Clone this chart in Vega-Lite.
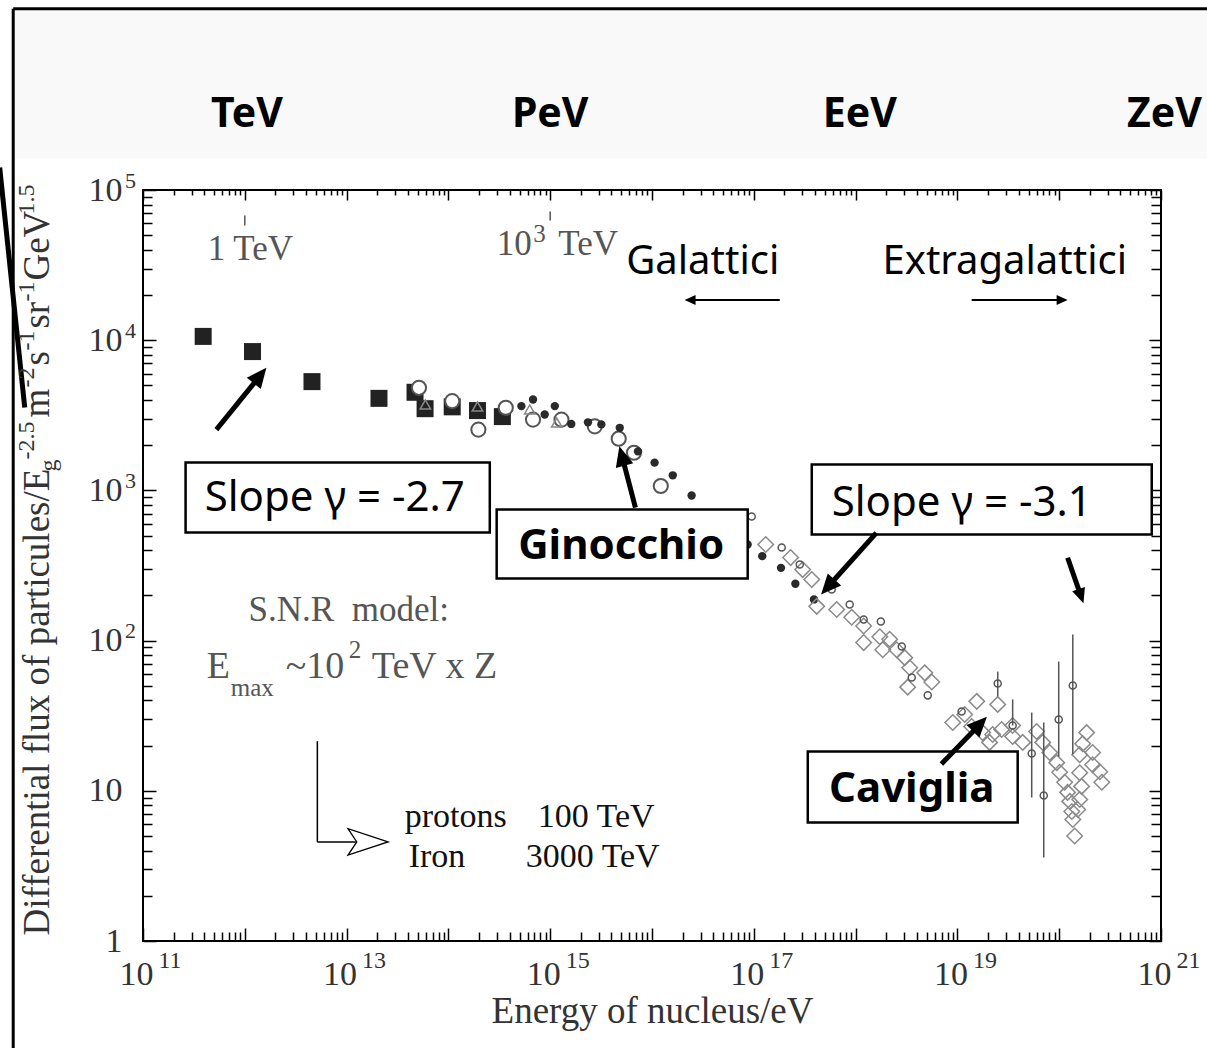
{
  "$schema": "https://vega.github.io/schema/vega-lite/v6.json",
  "width": 1018,
  "height": 751,
  "autosize": {"type": "none"},
  "padding": {"left": 143, "top": 190, "right": 46, "bottom": 107},
  "background": "#ffffff",
  "config": {
    "view": {"stroke": "#000000", "strokeWidth": 2},
    "axis": {"domain": false, "grid": false, "tickColor": "#000000", "tickWidth": 1.5, "labelColor": "#333333", "labelFont": "Liberation Serif", "labelOverlap": false, "labelFlush": false, "zindex": 1}
  },
  "resolve": {"axis": {"x": "independent", "y": "independent"}},
  "encoding": {
    "x": {"field": "E", "type": "quantitative", "scale": {"type": "log", "domain": [1e11, 1e21], "nice": false}, "axis": null},
    "y": {"field": "F", "type": "quantitative", "scale": {"type": "log", "domain": [1, 100000], "nice": false}, "axis": null}
  },
  "datasets": {
    "band": [{"E": 5.5e9, "E2": 3.0e21, "F": 1.58e6, "F2": 1.6e5}],
    "bandLabels": [
      {"t": "TeV", "E": 1.05e12, "F": 2.61e5},
      {"t": "PeV", "E": 1.0e15, "F": 2.61e5},
      {"t": "EeV", "E": 1.1e18, "F": 2.61e5},
      {"t": "ZeV", "E": 1.08e21, "F": 2.61e5}
    ],
    "frame": [
      {"E": 5.31e9, "F": 1.61e6, "E2": 3.0e21, "F2": 1.61e6},
      {"E": 5.31e9, "F": 1.61e6, "E2": 5.31e9, "F2": 0.19}
    ],
    "pointer": [{"E": 3.91e9, "F": 1.41e5, "E2": 6.89e9, "F2": 3565}],
    "yTitleMain": [
      {"t": "Differential flux of particules/E", "E": 1.186e10, "F": 1.089},
      {"t": "m", "E": 1.186e10, "F": 3055},
      {"t": "s", "E": 1.186e10, "F": 6786},
      {"t": "sr", "E": 1.186e10, "F": 11960},
      {"t": "GeV", "E": 1.186e10, "F": 24950}
    ],
    "yTitleScripts": [
      {"t": "g", "E": 1.39e10, "F": 1336},
      {"t": "-2.5", "E": 8.44e9, "F": 1606},
      {"t": "-2", "E": 8.44e9, "F": 4842},
      {"t": "-1", "E": 8.44e9, "F": 8536},
      {"t": "-1", "E": 8.44e9, "F": 18110},
      {"t": "1.5", "E": 8.44e9, "F": 68700}
    ],
    "squares": [
      {"E": 3.9e11, "F": 10600}, {"E": 1.19e12, "F": 8400}, {"E": 4.57e12, "F": 5300},
      {"E": 2.08e13, "F": 4100}, {"E": 4.7e13, "F": 4500}, {"E": 5.9e13, "F": 3500},
      {"E": 1.09e14, "F": 3600}, {"E": 1.93e14, "F": 3400}, {"E": 3.39e14, "F": 3100}
    ],
    "openCircles": [
      {"E": 5.14e13, "F": 4820}, {"E": 1.09e14, "F": 3930}, {"E": 1.97e14, "F": 2540},
      {"E": 3.66e14, "F": 3550}, {"E": 6.78e14, "F": 2960}, {"E": 1.29e15, "F": 2960},
      {"E": 2.74e15, "F": 2670}, {"E": 4.71e15, "F": 2210}, {"E": 6.65e15, "F": 1780},
      {"E": 1.22e16, "F": 1070}
    ],
    "triangles": [
      {"E": 5.94e13, "F": 3730}, {"E": 1.93e14, "F": 3620}, {"E": 6.3e14, "F": 3460}, {"E": 1.16e15, "F": 2830}
    ],
    "dots": [
      {"E": 5.21e14, "F": 3640}, {"E": 6.78e14, "F": 4030}, {"E": 8.83e14, "F": 3200},
      {"E": 1.11e15, "F": 3640}, {"E": 1.61e15, "F": 2770}, {"E": 2.35e15, "F": 2840},
      {"E": 3.18e15, "F": 2750}, {"E": 4.82e15, "F": 2610}, {"E": 7.28e15, "F": 1820},
      {"E": 1.06e16, "F": 1530}, {"E": 1.6e16, "F": 1260}, {"E": 2.45e16, "F": 925},
      {"E": 8.7e16, "F": 436}, {"E": 1.21e17, "F": 365}, {"E": 1.85e17, "F": 305},
      {"E": 2.56e17, "F": 239}, {"E": 3.9e17, "F": 188}
    ],
    "diamonds": [
      {"E": 1.31e17, "F": 436}, {"E": 2.3e17, "F": 357}, {"E": 3.02e17, "F": 297},
      {"E": 3.71e17, "F": 255}, {"E": 4.15e17, "F": 169}, {"E": 6.52e17, "F": 161},
      {"E": 9.16e17, "F": 143}, {"E": 1.2e18, "F": 125}, {"E": 1.2e18, "F": 97},
      {"E": 1.73e18, "F": 106}, {"E": 1.85e18, "F": 87}, {"E": 2.16e18, "F": 102},
      {"E": 2.53e18, "F": 87}, {"E": 3.04e18, "F": 77}, {"E": 3.4e18, "F": 66},
      {"E": 3.25e18, "F": 49}, {"E": 4.78e18, "F": 61}, {"E": 5.6e18, "F": 53},
      {"E": 9.0e18, "F": 28.5}, {"E": 1.18e19, "F": 32.2}, {"E": 1.55e19, "F": 39.4},
      {"E": 2.49e19, "F": 37.6}, {"E": 1.38e19, "F": 26.8}, {"E": 1.77e19, "F": 24.4},
      {"E": 2.07e19, "F": 21.0}, {"E": 2.22e19, "F": 23.7}, {"E": 2.72e19, "F": 25.6},
      {"E": 3.49e19, "F": 27.2}, {"E": 3.49e19, "F": 23.0}, {"E": 4.38e19, "F": 21.0},
      {"E": 6.0e19, "F": 24.8}, {"E": 6.89e19, "F": 21.0}, {"E": 8.07e19, "F": 18.0},
      {"E": 9.46e19, "F": 15.4}, {"E": 1.01e20, "F": 13.3}, {"E": 1.13e20, "F": 11.4},
      {"E": 1.21e20, "F": 9.76}, {"E": 1.27e20, "F": 8.5}, {"E": 1.33e20, "F": 7.28},
      {"E": 1.36e20, "F": 6.44}, {"E": 1.42e20, "F": 5.0}, {"E": 1.52e20, "F": 7.5},
      {"E": 1.59e20, "F": 8.75}, {"E": 1.66e20, "F": 10.7}, {"E": 1.59e20, "F": 13.2},
      {"E": 1.59e20, "F": 17.4}, {"E": 1.7e20, "F": 20.6}, {"E": 1.86e20, "F": 24.4},
      {"E": 2.13e20, "F": 18.0}, {"E": 2.13e20, "F": 14.9}, {"E": 2.5e20, "F": 13.4},
      {"E": 2.62e20, "F": 11.4}
    ],
    "smallCircles": [
      {"E": 9.53e16, "F": 670}, {"E": 1.88e17, "F": 417}, {"E": 2.83e17, "F": 321},
      {"E": 5.82e17, "F": 219}, {"E": 8.75e17, "F": 174}, {"E": 1.2e18, "F": 138},
      {"E": 1.77e18, "F": 134}, {"E": 2.84e18, "F": 91.4}, {"E": 3.56e18, "F": 56.8},
      {"E": 5.11e18, "F": 43.2}, {"E": 1.1e19, "F": 33.7},
      {"E": 2.49e19, "F": 51.8, "lo": 42.5, "hi": 62.2},
      {"E": 3.49e19, "F": 27.2, "lo": 27.2, "hi": 40.6},
      {"E": 5.37e19, "F": 17.7, "lo": 9.02, "hi": 33.2},
      {"E": 7.05e19, "F": 9.31, "lo": 3.6, "hi": 28.5},
      {"E": 9.89e19, "F": 29.8, "lo": 16.9, "hi": 72.6},
      {"E": 1.36e20, "F": 50.2, "lo": 17.5, "hi": 110}
    ],
    "boxes": [
      {"E": 2.62e11, "E2": 2.55e14, "F": 1535, "F2": 525},
      {"E": 2.98e14, "E2": 8.71e16, "F": 746, "F2": 259},
      {"E": 3.71e17, "E2": 8.11e20, "F": 1486, "F2": 508},
      {"E": 3.39e17, "E2": 3.91e19, "F": 18.3, "F2": 6.15}
    ],
    "slopeText": [
      {"t": "Slope γ = -2.7", "E": 4.04e11, "F": 724},
      {"t": "Slope γ = -3.1", "E": 5.82e17, "F": 673}
    ],
    "boldText": [
      {"t": "Ginocchio", "E": 4.98e15, "F": 347},
      {"t": "Caviglia", "E": 3.56e18, "F": 8.36}
    ],
    "regions": [
      {"t": "Galattici", "E": 3.15e16, "F": 27400},
      {"t": "Extragalattici", "E": 2.92e19, "F": 27400}
    ],
    "thinArrows": [
      {"E": 1.8e17, "F": 18500, "E2": 2.51e16, "F2": 18500},
      {"E": 1.38e19, "F": 18500, "E2": 1.01e20, "F2": 18500}
    ],
    "thickArrows": [
      {"E": 5.26e11, "F": 2540, "E2": 1.34e12, "F2": 5546},
      {"E": 6.87e15, "F": 769, "E2": 5.18e15, "F2": 1600},
      {"E": 1.6e18, "F": 522, "E2": 5.66e17, "F2": 238},
      {"E": 1.21e20, "F": 356, "E2": 1.61e20, "F2": 204},
      {"E": 6.97e18, "F": 15.1, "E2": 1.57e19, "F2": 26.6}
    ],
    "heads": [
      {"id": "a1", "E": 1.63e12, "F": 6550},
      {"id": "a2", "E": 4.78e15, "F": 1968},
      {"id": "a3", "E": 4.58e17, "F": 203},
      {"id": "a4", "E": 1.73e20, "F": 177},
      {"id": "a5", "E": 1.95e19, "F": 31.1},
      {"id": "g1", "E": 2.09e16, "F": 18500},
      {"id": "g2", "E": 1.21e20, "F": 18500}
    ],
    "energyTicks": [
      {"E": 1e12, "F": 67600, "E2": 1e12, "F2": 58100},
      {"E": 1e15, "F": 71900, "E2": 1e15, "F2": 62700}
    ],
    "snrLines": [
      {"E": 5.16e12, "F": 21.4, "E2": 5.16e12, "F2": 4.57},
      {"E": 5.16e12, "F": 4.57, "E2": 1.23e13, "F2": 4.57}
    ],
    "snrHead": [{"E": 2.55e13, "F": 4.57}],
    "serif35": [
      {"t": "1 TeV", "E": 4.32e11, "F": 34400},
      {"t": "10", "E": 2.98e14, "F": 37200},
      {"t": "TeV", "E": 1.2e15, "F": 37200},
      {"t": "S.N.R\u00a0\u00a0model:", "E": 1.09e12, "F": 134.6}
    ],
    "serif38": [
      {"t": "E", "E": 4.23e11, "F": 56.5},
      {"t": "~10", "E": 2.52e12, "F": 56.5},
      {"t": "TeV x Z", "E": 1.77e13, "F": 56.5}
    ],
    "serif25": [
      {"t": "3", "E": 6.8e14, "F": 45000},
      {"t": "2", "E": 1.05e13, "F": 76.9},
      {"t": "max", "E": 7.28e11, "F": 42.7}
    ],
    "nucleiLeft": [
      {"t": "protons", "E": 3.72e13, "F": 5.7},
      {"t": "Iron", "E": 4.07e13, "F": 3.13}
    ],
    "nucleiRight": [
      {"t": "100 TeV", "E": 1.06e16, "F": 5.7},
      {"t": "3000 TeV", "E": 1.19e16, "F": 3.13}
    ]
  },
  "layer": [
    {"data": {"name": "band"}, "mark": {"type": "rect", "fill": "#f9f9f9"}, "encoding": {"x2": {"field": "E2"}, "y2": {"field": "F2"}}},
    {"data": {"name": "frame"}, "mark": {"type": "rule", "color": "#000000", "strokeWidth": 3}, "encoding": {"x2": {"field": "E2"}, "y2": {"field": "F2"}}},
    {"data": {"name": "pointer"}, "mark": {"type": "rule", "color": "#000000", "strokeWidth": 5}, "encoding": {"x2": {"field": "E2"}, "y2": {"field": "F2"}}},
    {"data": {"name": "bandLabels"}, "mark": {"type": "text", "font": "Noto Sans", "fontSize": 41, "fontWeight": "bold", "align": "center", "baseline": "alphabetic", "color": "#000000"}, "encoding": {"text": {"field": "t"}}},
    {"data": {"name": "yTitleMain"}, "mark": {"type": "text", "angle": 270, "align": "left", "baseline": "alphabetic", "font": "Liberation Serif", "fontSize": 37, "color": "#333333"}, "encoding": {"text": {"field": "t"}}},
    {"data": {"name": "yTitleScripts"}, "mark": {"type": "text", "angle": 270, "align": "left", "baseline": "alphabetic", "font": "Liberation Serif", "fontSize": 24, "color": "#333333"}, "encoding": {"text": {"field": "t"}}},
    {
      "data": {"name": "squares"},
      "mark": {"type": "point", "shape": "square", "filled": true, "size": 289, "color": "#222222", "opacity": 1},
      "encoding": {
        "x": {"field": "E", "type": "quantitative", "scale": {"type": "log", "domain": [1e11, 1e21], "nice": false},
              "axis": {"orient": "bottom", "values": [1e11, 1e12, 1e13, 1e14, 1e15, 1e16, 1e17, 1e18, 1e19, 1e20, 1e21], "labels": false, "tickSize": -13, "title": null}},
        "y": {"field": "F", "type": "quantitative", "scale": {"type": "log", "domain": [1, 100000], "nice": false},
              "axis": {"orient": "left", "values": [1, 10, 100, 1000, 10000, 100000], "labels": false, "tickSize": -13, "title": null}}
      }
    },
    {
      "data": {"name": "openCircles"},
      "mark": {"type": "point", "shape": "circle", "filled": true, "fill": "#ffffff", "stroke": "#555555", "strokeWidth": 2, "size": 200, "opacity": 1},
      "encoding": {
        "x": {"field": "E", "type": "quantitative", "scale": {"type": "log", "domain": [1e11, 1e21], "nice": false},
              "axis": {"orient": "bottom", "labels": false, "tickSize": -9, "title": null, "values": [
                2e11, 3e11, 4e11, 5e11, 6e11, 7e11, 8e11, 9e11, 2e12, 3e12, 4e12, 5e12, 6e12, 7e12, 8e12, 9e12,
                2e13, 3e13, 4e13, 5e13, 6e13, 7e13, 8e13, 9e13, 2e14, 3e14, 4e14, 5e14, 6e14, 7e14, 8e14, 9e14,
                2e15, 3e15, 4e15, 5e15, 6e15, 7e15, 8e15, 9e15, 2e16, 3e16, 4e16, 5e16, 6e16, 7e16, 8e16, 9e16,
                2e17, 3e17, 4e17, 5e17, 6e17, 7e17, 8e17, 9e17, 2e18, 3e18, 4e18, 5e18, 6e18, 7e18, 8e18, 9e18,
                2e19, 3e19, 4e19, 5e19, 6e19, 7e19, 8e19, 9e19, 2e20, 3e20, 4e20, 5e20, 6e20, 7e20, 8e20, 9e20]}},
        "y": {"field": "F", "type": "quantitative", "scale": {"type": "log", "domain": [1, 100000], "nice": false},
              "axis": {"orient": "left", "labels": false, "tickSize": -9, "title": null, "values": [
                2, 3, 4, 5, 6, 7, 8, 9, 20, 30, 40, 50, 60, 70, 80, 90, 200, 300, 400, 500, 600, 700, 800, 900,
                2000, 3000, 4000, 5000, 6000, 7000, 8000, 9000, 20000, 30000, 40000, 50000, 60000, 70000, 80000, 90000]}}
      }
    },
    {
      "data": {"name": "triangles"},
      "mark": {"type": "point", "shape": "triangle-up", "filled": false, "stroke": "#888888", "strokeWidth": 1.5, "size": 110, "opacity": 1},
      "encoding": {
        "x": {"field": "E", "type": "quantitative", "scale": {"type": "log", "domain": [1e11, 1e21], "nice": false},
              "axis": {"orient": "top", "values": [1e11, 1e12, 1e13, 1e14, 1e15, 1e16, 1e17, 1e18, 1e19, 1e20, 1e21], "labels": false, "tickSize": -10, "title": null}},
        "y": {"field": "F", "type": "quantitative", "scale": {"type": "log", "domain": [1, 100000], "nice": false},
              "axis": {"orient": "right", "values": [1, 10, 100, 1000, 10000, 100000], "labels": false, "tickSize": -12, "title": null}}
      }
    },
    {
      "data": {"name": "dots"},
      "mark": {"type": "point", "shape": "circle", "filled": true, "size": 70, "color": "#2a2a2a", "opacity": 1},
      "encoding": {
        "x": {"field": "E", "type": "quantitative", "scale": {"type": "log", "domain": [1e11, 1e21], "nice": false},
              "axis": {"orient": "top", "labels": false, "tickSize": -5, "title": null, "values": [
                2e11, 3e11, 4e11, 5e11, 6e11, 7e11, 8e11, 9e11, 2e12, 3e12, 4e12, 5e12, 6e12, 7e12, 8e12, 9e12,
                2e13, 3e13, 4e13, 5e13, 6e13, 7e13, 8e13, 9e13, 2e14, 3e14, 4e14, 5e14, 6e14, 7e14, 8e14, 9e14,
                2e15, 3e15, 4e15, 5e15, 6e15, 7e15, 8e15, 9e15, 2e16, 3e16, 4e16, 5e16, 6e16, 7e16, 8e16, 9e16,
                2e17, 3e17, 4e17, 5e17, 6e17, 7e17, 8e17, 9e17, 2e18, 3e18, 4e18, 5e18, 6e18, 7e18, 8e18, 9e18,
                2e19, 3e19, 4e19, 5e19, 6e19, 7e19, 8e19, 9e19, 2e20, 3e20, 4e20, 5e20, 6e20, 7e20, 8e20, 9e20]}},
        "y": {"field": "F", "type": "quantitative", "scale": {"type": "log", "domain": [1, 100000], "nice": false},
              "axis": {"orient": "right", "labels": false, "tickSize": -10, "title": null, "values": [
                2, 3, 4, 5, 6, 7, 8, 9, 20, 30, 40, 50, 60, 70, 80, 90, 200, 300, 400, 500, 600, 700, 800, 900,
                2000, 3000, 4000, 5000, 6000, 7000, 8000, 9000, 20000, 30000, 40000, 50000, 60000, 70000, 80000, 90000]}}
      }
    },
    {
      "data": {"name": "diamonds"},
      "mark": {"type": "point", "shape": "diamond", "filled": false, "stroke": "#8a8a8a", "strokeWidth": 1.5, "size": 240, "opacity": 1},
      "encoding": {
        "x": {"field": "E", "type": "quantitative", "scale": {"type": "log", "domain": [1e11, 1e21], "nice": false},
              "axis": {"orient": "bottom", "values": [1e11, 1e13, 1e15, 1e17, 1e19, 1e21], "ticks": false, "labelExpr": "'10'",
                       "labelFontSize": 34, "labelAlign": "center", "labelBaseline": "top", "labelPadding": 16, "labelOffset": -7,
                       "title": "Energy of nucleus/eV", "titleFont": "Liberation Serif", "titleFontSize": 37, "titleFontWeight": "normal",
                       "titleColor": "#333333", "titleY": 81, "titleBaseline": "alphabetic"}},
        "y": {"field": "F", "type": "quantitative", "scale": {"type": "log", "domain": [1, 100000], "nice": false},
              "axis": {"orient": "left", "values": [1, 10, 100, 1000, 10000, 100000], "ticks": false, "labelExpr": "datum.value < 5 ? '1' : '10'",
                       "labelFontSize": 34, "labelAlign": "right", "labelBaseline": "middle", "labelPadding": 21, "title": null}}
      }
    },
    {
      "data": {"name": "smallCircles"},
      "transform": [{"filter": "isValid(datum.lo)"}],
      "mark": {"type": "rule", "color": "#555555", "strokeWidth": 1.5},
      "encoding": {
        "y": {"field": "lo", "type": "quantitative", "scale": {"type": "log", "domain": [1, 100000], "nice": false}, "axis": null},
        "y2": {"field": "hi"}
      }
    },
    {
      "data": {"name": "smallCircles"},
      "mark": {"type": "point", "shape": "circle", "filled": false, "stroke": "#555555", "strokeWidth": 1.5, "size": 50, "opacity": 1},
      "encoding": {
        "x": {"field": "E", "type": "quantitative", "scale": {"type": "log", "domain": [1e11, 1e21], "nice": false},
              "axis": {"orient": "bottom", "values": [1e11, 1e13, 1e15, 1e17, 1e19, 1e21], "ticks": false,
                       "labelExpr": "'' + round(log(datum.value) / LN10)", "labelFontSize": 24, "labelAlign": "left",
                       "labelBaseline": "top", "labelPadding": 7, "labelOffset": 15, "title": null}},
        "y": {"field": "F", "type": "quantitative", "scale": {"type": "log", "domain": [1, 100000], "nice": false},
              "axis": {"orient": "left", "values": [100, 1000, 10000, 100000], "ticks": false,
                       "labelExpr": "'' + round(log(datum.value) / LN10)", "labelFontSize": 22, "labelAlign": "left",
                       "labelBaseline": "middle", "labelPadding": 18.5, "labelOffset": -10, "title": null}}
      }
    },
    {"data": {"name": "boxes"}, "mark": {"type": "rect", "fill": "#ffffff", "stroke": "#000000", "strokeWidth": 2.5}, "encoding": {"x2": {"field": "E2"}, "y2": {"field": "F2"}}},
    {"data": {"name": "slopeText"}, "mark": {"type": "text", "font": "Noto Sans", "fontSize": 42, "align": "left", "baseline": "alphabetic", "color": "#000000"}, "encoding": {"text": {"field": "t"}}},
    {"data": {"name": "boldText"}, "mark": {"type": "text", "font": "Noto Sans", "fontSize": 42, "fontWeight": "bold", "align": "center", "baseline": "alphabetic", "color": "#000000"}, "encoding": {"text": {"field": "t"}}},
    {"data": {"name": "regions"}, "mark": {"type": "text", "font": "Noto Sans", "fontSize": 40, "align": "center", "baseline": "alphabetic", "color": "#000000"}, "encoding": {"text": {"field": "t"}}},
    {"data": {"name": "thinArrows"}, "mark": {"type": "rule", "color": "#000000", "strokeWidth": 2}, "encoding": {"x2": {"field": "E2"}, "y2": {"field": "F2"}}},
    {"data": {"name": "thickArrows"}, "mark": {"type": "rule", "color": "#000000", "strokeWidth": 5}, "encoding": {"x2": {"field": "E2"}, "y2": {"field": "F2"}}},
    {"data": {"name": "heads"}, "transform": [{"filter": {"field": "id", "equal": "a1"}}], "mark": {"type": "point", "shape": "M0,0L-0.45,1L0.45,1Z", "filled": true, "size": 1600, "color": "#000000", "opacity": 1, "angle": 39}},
    {"data": {"name": "heads"}, "transform": [{"filter": {"field": "id", "equal": "a2"}}], "mark": {"type": "point", "shape": "M0,0L-0.45,1L0.45,1Z", "filled": true, "size": 1600, "color": "#000000", "opacity": 1, "angle": -15}},
    {"data": {"name": "heads"}, "transform": [{"filter": {"field": "id", "equal": "a3"}}], "mark": {"type": "point", "shape": "M0,0L-0.45,1L0.45,1Z", "filled": true, "size": 1600, "color": "#000000", "opacity": 1, "angle": -138}},
    {"data": {"name": "heads"}, "transform": [{"filter": {"field": "id", "equal": "a4"}}], "mark": {"type": "point", "shape": "M0,0L-0.45,1L0.45,1Z", "filled": true, "size": 900, "color": "#000000", "opacity": 1, "angle": 161}},
    {"data": {"name": "heads"}, "transform": [{"filter": {"field": "id", "equal": "a5"}}], "mark": {"type": "point", "shape": "M0,0L-0.45,1L0.45,1Z", "filled": true, "size": 1600, "color": "#000000", "opacity": 1, "angle": 44}},
    {"data": {"name": "heads"}, "transform": [{"filter": {"field": "id", "equal": "g1"}}], "mark": {"type": "point", "shape": "M0,0L-0.45,1L0.45,1Z", "filled": true, "size": 484, "color": "#000000", "opacity": 1, "angle": -90}},
    {"data": {"name": "heads"}, "transform": [{"filter": {"field": "id", "equal": "g2"}}], "mark": {"type": "point", "shape": "M0,0L-0.45,1L0.45,1Z", "filled": true, "size": 484, "color": "#000000", "opacity": 1, "angle": 90}},
    {"data": {"name": "energyTicks"}, "mark": {"type": "rule", "color": "#555555", "strokeWidth": 1.5}, "encoding": {"x2": {"field": "E2"}, "y2": {"field": "F2"}}},
    {"data": {"name": "snrLines"}, "mark": {"type": "rule", "color": "#000000", "strokeWidth": 1.5}, "encoding": {"x2": {"field": "E2"}, "y2": {"field": "F2"}}},
    {"data": {"name": "snrHead"}, "mark": {"type": "point", "shape": "M0,0L-1,-0.33L-0.78,0L-1,0.33Z", "filled": false, "size": 6400, "stroke": "#000000", "strokeWidth": 1.3, "opacity": 1}},
    {"data": {"name": "serif35"}, "mark": {"type": "text", "font": "Liberation Serif", "fontSize": 35, "align": "left", "baseline": "alphabetic", "color": "#555555"}, "encoding": {"text": {"field": "t"}}},
    {"data": {"name": "serif38"}, "mark": {"type": "text", "font": "Liberation Serif", "fontSize": 38, "align": "left", "baseline": "alphabetic", "color": "#555555"}, "encoding": {"text": {"field": "t"}}},
    {"data": {"name": "serif25"}, "mark": {"type": "text", "font": "Liberation Serif", "fontSize": 25, "align": "left", "baseline": "alphabetic", "color": "#555555"}, "encoding": {"text": {"field": "t"}}},
    {"data": {"name": "nucleiLeft"}, "mark": {"type": "text", "font": "Liberation Serif", "fontSize": 34, "align": "left", "baseline": "alphabetic", "color": "#111111"}, "encoding": {"text": {"field": "t"}}},
    {"data": {"name": "nucleiRight"}, "mark": {"type": "text", "font": "Liberation Serif", "fontSize": 34, "align": "right", "baseline": "alphabetic", "color": "#111111"}, "encoding": {"text": {"field": "t"}}}
  ]
}
